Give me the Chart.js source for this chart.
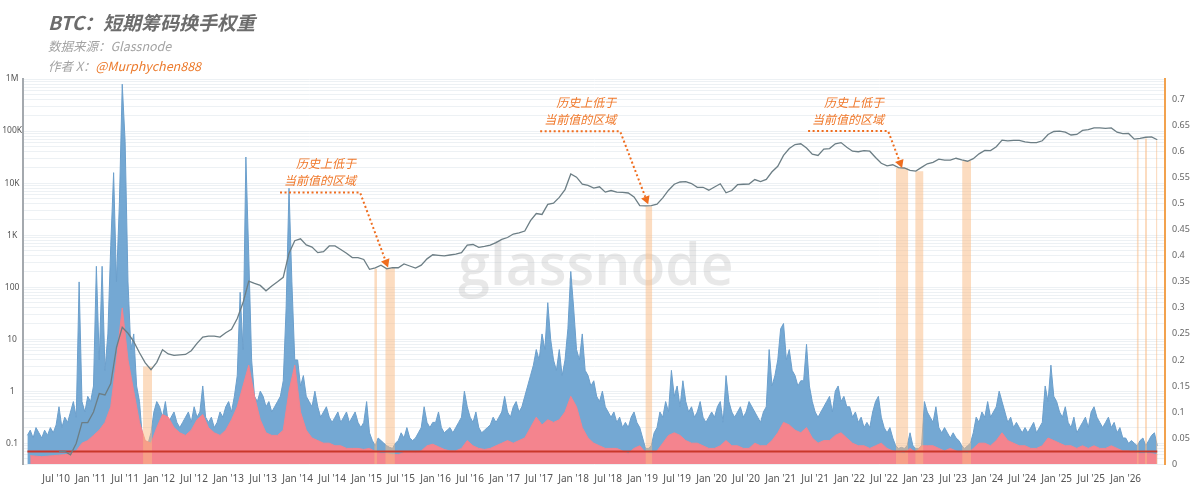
<!DOCTYPE html>
<html><head><meta charset="utf-8">
<script src="https://cdn.jsdelivr.net/npm/chart.js@4.4.1/dist/chart.umd.min.js"></script>
<style>
html,body{margin:0;padding:0;background:#fff;}
#wrap{position:relative;width:1199px;height:496px;overflow:hidden;background:#fff;}
#c{position:absolute;left:0;top:0;}
.t{position:absolute;left:48px;font-family:"Noto Sans CJK SC","Noto Sans",sans-serif;font-style:italic;white-space:nowrap;line-height:1;}
#title{top:12px;font-size:19px;font-weight:bold;color:#6c6c6c;}
#src{top:40px;font-size:12.5px;color:#a3a3a3;}
#auth{top:60px;font-size:12.5px;color:#a3a3a3;}
#auth span{color:#ec7a2c;}
</style></head><body>
<div id="wrap">
<canvas id="c" width="1199" height="496"></canvas>
<div class="t" id="title">BTC：短期筹码换手权重</div>
<div class="t" id="src">数据来源：Glassnode</div>
<div class="t" id="auth">作者 X：<span>@Murphychen888</span></div>
</div>
<script>
// ---------- DATA ----------
// x-axis tick labels (half-year)
const xTickLabels = ["Jul '10","Jan '11","Jul '11","Jan '12","Jul '12","Jan '13","Jul '13","Jan '14","Jul '14","Jan '15","Jul '15","Jan '16","Jul '16","Jan '17","Jul '17","Jan '18","Jul '18","Jan '19","Jul '19","Jan '20","Jul '20","Jan '21","Jul '21","Jan '22","Jul '22","Jan '23","Jul '23","Jan '24","Jul '24","Jan '25","Jul '25","Jan '26"];
// left log axis tick labels
const leftTickValues = [0.1, 1, 10, 100, 1000, 10000, 100000, 1000000];
const leftTickLabels = ["0.1", "1", "10", "100", "1K", "10K", "100K", "1M"];

// short-term turnover weight (blue), twice monthly, from 2010-02-01 to 2026-06-15
const blueStartYear = 2010, blueStartMonth = 1; // Feb 2010 (0-based month)
const blueWeight = [
.055,.065,.05,.07,.06,.05,.065,.055,.07,.06,.075,.11,.07,.09,.08,.1,.12,.09,.35,.12,.1,.13,
.12,.15,.38,.2,.38,.18,.25,.42,.56,.35,.5,.73,.62,.35,.22,.25,.15,.12,.05,.045,.04,.06,.1,.12,
.11,.09,.12,.08,.09,.1,.08,.07,.08,.09,.1,.08,.11,.09,.1,.15,.09,.08,.09,.07,.08,.1,.09,.11,
.12,.1,.13,.17,.33,.22,.59,.4,.2,.13,.12,.14,.13,.11,.12,.1,.11,.12,.13,.16,.3,.53,.35,.2,
.2,.15,.17,.13,.12,.11,.14,.11,.09,.1,.11,.09,.08,.09,.1,.08,.09,.1,.08,.09,.1,.08,.07,.08,
.12,.06,.045,.035,.05,.045,.04,.035,.032,.03,.04,.045,.06,.05,.07,.05,.045,.05,.06,.07,.11,.08,.07,.08,
.08,.1,.07,.06,.065,.07,.06,.07,.08,.09,.14,.11,.09,.08,.1,.07,.06,.065,.07,.075,.09,.08,.09,.1,
.13,.1,.09,.11,.12,.1,.11,.13,.15,.17,.19,.22,.2,.25,.22,.31,.24,.2,.18,.22,.17,.2,.26,.37,
.3,.22,.2,.25,.18,.17,.15,.16,.13,.12,.14,.11,.1,.09,.1,.08,.09,.07,.08,.07,.09,.1,.08,.07,
.05,.03,.03,.035,.06,.07,.1,.09,.12,.1,.18,.13,.15,.11,.16,.12,.1,.11,.09,.1,.12,.09,.08,.09,
.1,.09,.11,.12,.08,.17,.12,.1,.09,.1,.11,.09,.1,.12,.11,.1,.09,.08,.1,.11,.22,.15,.17,.2,
.26,.27,.2,.22,.18,.17,.15,.16,.16,.23,.15,.12,.1,.09,.1,.11,.12,.13,.1,.14,.15,.12,.13,.11,
.11,.09,.1,.08,.09,.07,.08,.07,.1,.12,.13,.09,.07,.06,.07,.05,.035,.03,.032,.03,.035,.06,.035,.03,
.03,.035,.12,.1,.09,.08,.11,.07,.06,.07,.06,.05,.06,.05,.045,.035,.03,.035,.04,.06,.09,.08,.1,.09,
.12,.09,.1,.11,.14,.12,.1,.08,.09,.07,.08,.07,.06,.07,.06,.07,.08,.06,.07,.08,.15,.12,.19,.13,
.12,.1,.09,.11,.08,.07,.09,.06,.07,.08,.09,.07,.1,.11,.09,.08,.07,.08,.09,.07,.08,.06,.07,.05,
.05,.04,.045,.04,.035,.045,.05,.035,.045,.055,.06,.035
];
// second weight series (pink), monthly, Feb 2010 .. Jun 2026
const pinkWeight = [
.016,.015,.014,.015,.016,.017,.018,.02,.025,.04,.045,
.055,.065,.08,.11,.2,.3,.2,.14,.08,.045,.04,.07,
.095,.09,.07,.06,.055,.065,.085,.095,.07,.06,.055,.065,
.085,.11,.15,.19,.13,.085,.06,.055,.055,.065,.14,.19,
.1,.065,.05,.045,.04,.04,.035,.035,.03,.03,.03,.028,
.03,.024,.02,.02,.018,.018,.022,.024,.022,.025,.035,.038,
.033,.028,.025,.025,.03,.045,.035,.03,.028,.03,.035,.04,
.045,.04,.045,.05,.07,.09,.075,.085,.08,.085,.1,.13,
.11,.07,.05,.04,.035,.03,.03,.03,.025,.02,.03,.035,
.022,.02,.025,.04,.055,.06,.055,.045,.04,.04,.035,.03,
.03,.035,.045,.035,.035,.03,.03,.04,.035,.035,.045,.06,
.08,.075,.065,.06,.07,.05,.04,.045,.045,.055,.06,.05,
.04,.035,.035,.03,.035,.04,.03,.025,.022,.02,.03,.022,
.035,.035,.035,.03,.025,.03,.025,.022,.02,.03,.04,.04,
.035,.045,.06,.045,.04,.035,.035,.03,.03,.035,.05,.045,
.04,.035,.035,.03,.035,.03,.035,.03,.03,.035,.03,.025,
.025,.022,.02,.02,.02,.018
];
// BTC price (USD), monthly, Jul 2010 .. Jun 2026
const priceStartYear = 2010, priceStartMonth = 6;
const btcPrice = [
.07,.07,.06,.1,.25,.25,
.4,.9,.85,1.4,7,17,13,9,5.5,3.5,2.6,3.6,
6.3,5.2,4.9,5,5.1,6,8.3,11,11.5,11.5,11,13.3,
15.5,25,50,130,118,108,85,105,127,155,450,780,
850,650,590,460,480,620,620,530,450,370,370,340,
220,235,265,225,237,236,280,255,233,265,350,420,
410,400,415,430,460,640,660,580,605,640,720,830,
900,1050,1100,1200,1900,2600,2500,3900,4100,5300,7500,15000,
13000,9500,9000,8000,8500,6700,7200,6700,6600,6450,5400,3700,
3650,3700,3950,5200,7300,9500,10500,10700,9800,8300,8300,7300,
8400,9700,6500,7200,9300,9500,9600,11700,10700,11800,16500,21000,
34000,46000,55000,57000,47000,36000,34000,45000,46000,57000,60000,49000,
41000,40000,42000,41000,31000,24000,21500,22500,19800,19500,17500,17000,
20000,23500,25000,28800,27500,27700,30000,28000,26300,29500,36500,42500,
42000,50000,67000,65000,66000,66000,62000,60000,60000,65000,86000,98000,
100000,95000,84000,86000,103000,106000,115000,115000,113000,115000,95000,89000,
90000,70000,72000,76000,77000,68000
];
// current value of the weight (red reference line)
const currentWeight = 0.024;
// periods where the weight was historically below the current value (decimal years) and BTC price there
const bandStart = [2011.76, 2015.11, 2015.27, 2019.04, 2022.67, 2022.95, 2023.63, 2026.16, 2026.28, 2026.44];
const bandEnd   = [2011.89, 2015.15, 2015.41, 2019.14, 2022.85, 2023.07, 2023.76, 2026.19, 2026.31, 2026.46];
const bandPrice = [3, 225, 235, 3600, 19500, 16800, 26500, 68000, 72000, 66000];
// annotation arrows (tip in data units)
const annoX = [2015.31, 2019.08, 2022.76];
const annoPrice = [240, 3900, 19500];
const annoLine1 = "历史上低于", annoLine2 = "当前值的区域";

// ---------- BUILD ----------
const blueData = blueWeight.map((v, i) => ({x: blueStartYear + (blueStartMonth + i / 2) / 12, y: v}));
const pinkData = pinkWeight.map((v, i) => ({x: blueStartYear + (blueStartMonth + i + 0.5) / 12, y: v}));
const priceData = btcPrice.map((v, i) => ({x: priceStartYear + (priceStartMonth + i + 0.5) / 12, y: v}));
const redData = [{x: blueData[0].x, y: currentWeight}, {x: blueData[blueData.length - 1].x, y: currentWeight}];
const bandData = [];
bandStart.forEach((s, i) => {
  bandData.push({x: s, y: bandPrice[i]}, {x: bandEnd[i], y: bandPrice[i]}, {x: bandEnd[i] + 0.0005, y: null});
});
const labelToYear = l => { const p = l.split(" '"); return 2000 + Number(p[1]) + (p[0] === 'Jul' ? 0.5 : 0); };
const xTickValues = xTickLabels.map(labelToYear);

// styles for annotations (pixel offsets of the elbow from the tip)
const annoElbow = [[-28, -75], [-28, -73], [-14, -37]];
const ORANGE = '#ef6d1f';

const watermark = {
  id: 'watermark',
  beforeDatasetsDraw(chart) {
    const {ctx} = chart;
    ctx.save();
    ctx.font = '600 57px "Open Sans", "Noto Sans", sans-serif';
    ctx.fillStyle = 'rgba(185,185,185,0.33)';
    ctx.textAlign = 'center';
    ctx.textBaseline = 'alphabetic';
    ctx.fillText('glassnode', 596, 285);
    ctx.restore();
  }
};

const annotate = {
  id: 'annotate',
  afterDatasetsDraw(chart) {
    const {ctx} = chart;
    const xs = chart.scales.x, ys = chart.scales.yL;
    ctx.save();
    annoX.forEach((xv, i) => {
      const tx = xs.getPixelForValue(xv), ty = ys.getPixelForValue(annoPrice[i]);
      const ex = tx + annoElbow[i][0], ey = ty + annoElbow[i][1];
      const sx = ex - 80;
      const dx = tx - ex, dy = ty - ey, len = Math.hypot(dx, dy);
      const ux = dx / len, uy = dy / len;
      const ah = 8, aw = 4.5;
      const bx = tx - ux * ah, by = ty - uy * ah;
      ctx.strokeStyle = ORANGE;
      ctx.lineWidth = 2;
      ctx.setLineDash([2, 2.5]);
      ctx.beginPath();
      ctx.moveTo(sx, ey);
      ctx.lineTo(ex, ey);
      ctx.lineTo(bx, by);
      ctx.stroke();
      ctx.setLineDash([]);
      ctx.fillStyle = ORANGE;
      ctx.beginPath();
      ctx.moveTo(tx, ty);
      ctx.lineTo(bx - uy * aw, by + ux * aw);
      ctx.lineTo(bx + uy * aw, by - ux * aw);
      ctx.closePath();
      ctx.fill();
      ctx.font = 'italic 12px "Noto Sans CJK SC", sans-serif';
      ctx.textAlign = 'right';
      ctx.textBaseline = 'middle';
      ctx.fillStyle = '#f0782a';
      ctx.fillText(annoLine1, ex - 4, ey - 29);
      ctx.fillText(annoLine2, ex - 4, ey - 12);
    });
    ctx.restore();
  }
};

Chart.defaults.font.family = '"Noto Sans", "Open Sans", sans-serif';

new Chart(document.getElementById('c'), {
  type: 'line',
  data: {
    datasets: [
      {label: 'BTC价格', data: priceData, yAxisID: 'yL', borderColor: '#6c7e85', borderWidth: 1.3, pointRadius: 0, fill: false, tension: 0, order: 0},
      {label: '当前值', data: redData, yAxisID: 'yR', borderColor: '#c9372a', borderWidth: 2, pointRadius: 0, fill: false, order: 1},
      {label: '历史上低于当前值的区域', data: bandData, yAxisID: 'yL', borderColor: 'rgba(0,0,0,0)', borderWidth: 0, backgroundColor: 'rgba(250,185,130,0.5)', fill: 'start', pointRadius: 0, spanGaps: false, order: 2},
      {label: '换手权重2', data: pinkData, yAxisID: 'yR', borderColor: '#f4838d', backgroundColor: '#f4848e', borderWidth: 1, fill: 'origin', pointRadius: 0, tension: 0, order: 3},
      {label: '短期筹码换手权重', data: blueData, yAxisID: 'yR', borderColor: '#6b9fcc', backgroundColor: '#74a8d3', borderWidth: 1, fill: 'origin', pointRadius: 0, tension: 0, order: 4}
    ]
  },
  options: {
    responsive: false,
    animation: false,
    parsing: true,
    layout: {padding: {top: 79, left: 0, right: 0, bottom: 0}},
    plugins: {legend: {display: false}, tooltip: {enabled: false}, title: {display: false}},
    scales: {
      x: {
        type: 'linear', min: 2010.02, max: 2026.57,
        afterBuildTicks: s => { s.ticks = xTickValues.map(v => ({value: v})); },
        afterFit: s => { s.height = 32; },
        ticks: {autoSkip: false, maxRotation: 0, padding: 9, color: '#555', font: {size: 10},
          callback: (v, i) => xTickLabels[i]},
        grid: {display: false, drawTicks: false},
        border: {display: false}
      },
      yL: {
        type: 'logarithmic', position: 'left', min: 0.04, max: 1000000,
        afterBuildTicks: s => {
          const t = [];
          for (let e = -2; e <= 6; e++) {
            for (let m = 1; m <= 9; m++) {
              const v = m * Math.pow(10, e);
              if (v >= 0.04 && v <= 1000000) t.push({value: v, major: m === 1});
            }
          }
          s.ticks = t;
        },
        afterFit: s => { s.width = 23; },
        ticks: {autoSkip: false, padding: 1, crossAlign: 'center', color: '#555', font: {size: 8.5},
          callback: (v) => { const k = leftTickValues.findIndex(x => Math.abs(x - v) / x < 1e-6); return k >= 0 ? leftTickLabels[k] : ''; }},
        grid: {color: '#edf1f4', lineWidth: 1, drawTicks: false},
        border: {display: true, color: '#a4a9ae', width: 2}
      },
      yR: {
        type: 'linear', position: 'right', min: 0, max: 0.74,
        afterFit: s => { s.width = 34; },
        ticks: {stepSize: 0.05, includeBounds: false, padding: 7, color: '#666', font: {size: 9},
          callback: v => String(Number(v.toFixed(2)))},
        grid: {display: false, drawTicks: false},
        border: {display: true, color: '#f2a24e', width: 2}
      }
    }
  },
  plugins: [watermark, annotate]
});
</script>
</body></html>
